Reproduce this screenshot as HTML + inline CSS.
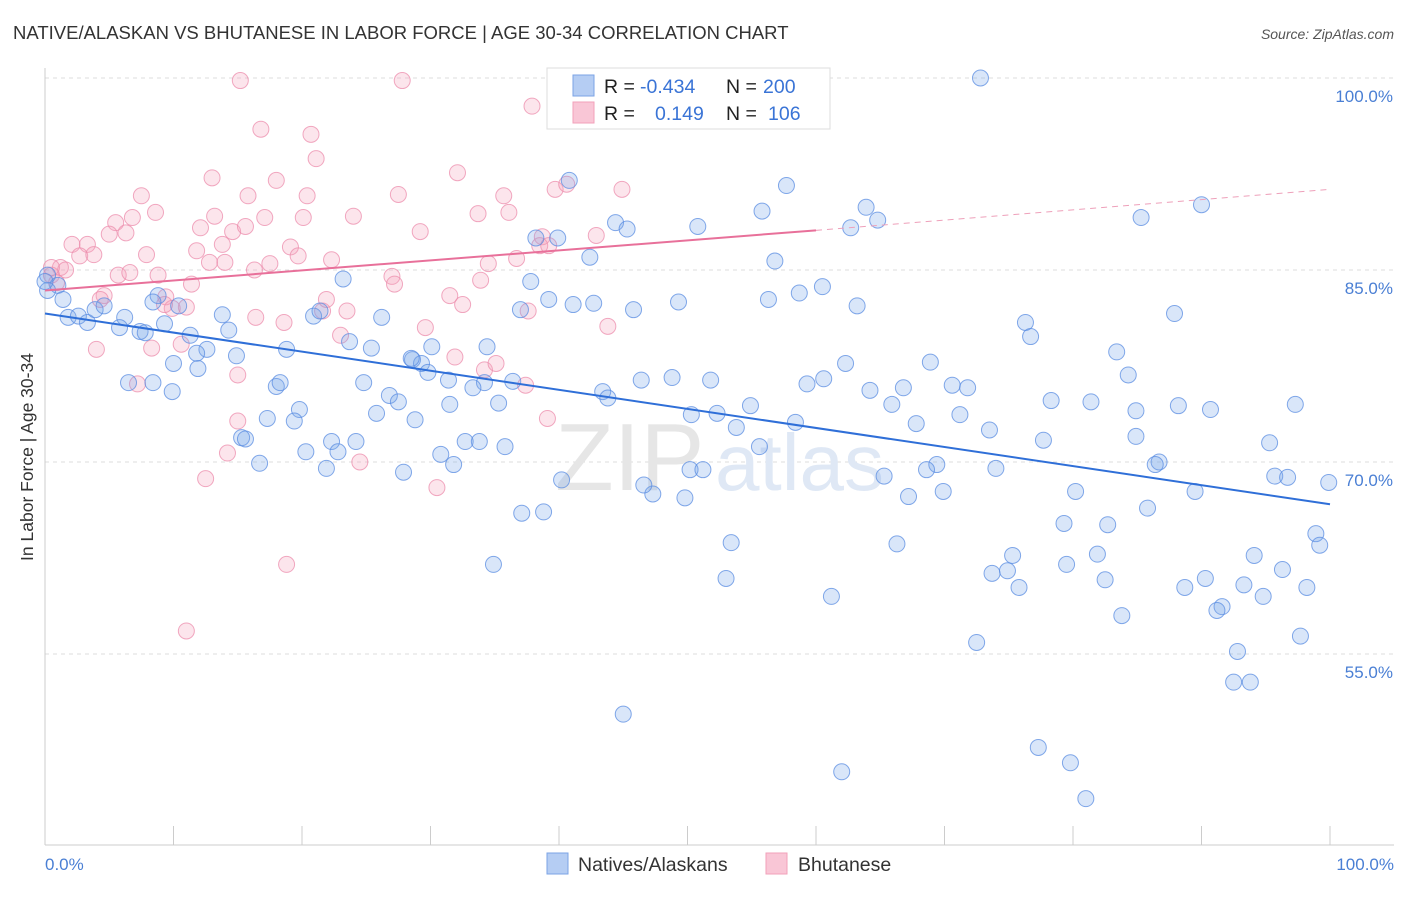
<!DOCTYPE html>
<html><head><meta charset="utf-8">
<style>
body{margin:0;background:#fff;font-family:"Liberation Sans",sans-serif;}
svg text{font-family:"Liberation Sans",sans-serif;}
</style></head>
<body>
<svg id="chart" width="1406" height="892" xmlns="http://www.w3.org/2000/svg">
<text x="13" y="39" font-size="18.5" fill="#333">NATIVE/ALASKAN VS BHUTANESE IN LABOR FORCE | AGE 30-34 CORRELATION CHART</text>
<text x="1394" y="39" font-size="14" fill="#555" font-style="italic" text-anchor="end">Source: ZipAtlas.com</text>
<text transform="translate(33,457) rotate(-90)" font-size="17.5" fill="#333" text-anchor="middle">In Labor Force | Age 30-34</text>
<g id="grid"></g>
<text x="555" y="490" font-size="96" fill="#e6e6e6" font-family="Liberation Serif">ZIP</text>
<text x="715" y="490" font-size="80" fill="#dfe8f5">atlas</text>
<g id="pts"></g>
<g id="trend"></g>
<g>
<rect x="547" y="68" width="283" height="61" fill="#fff" stroke="#ddd"/>
<rect x="573" y="75" width="21" height="21" fill="#b5cdf3" stroke="#7ba3e6"/>
<rect x="573" y="102" width="21" height="21" fill="#f9c6d6" stroke="#f2a0ba"/>
<text x="604" y="93" font-size="19.5" fill="#222">R = </text><text x="640" y="93" font-size="19.5" fill="#3a74d6">-0.434</text>
<text x="726" y="93" font-size="19.5" fill="#222">N =</text><text x="763" y="93" font-size="19.5" fill="#3a74d6">200</text>
<text x="604" y="120" font-size="19.5" fill="#222">R = </text><text x="655" y="120" font-size="19.5" fill="#3a74d6">0.149</text>
<text x="726" y="120" font-size="19.5" fill="#222">N =</text><text x="768" y="120" font-size="19.5" fill="#3a74d6">106</text>
</g>
<g>
<rect x="547" y="853" width="21" height="21" fill="#b5cdf3" stroke="#7ba3e6"/>
<text x="578" y="871" font-size="19.5" fill="#333">Natives/Alaskans</text>
<rect x="766" y="853" width="21" height="21" fill="#f9c6d6" stroke="#f2a0ba"/>
<text x="798" y="871" font-size="19.5" fill="#333">Bhutanese</text>
</g>
<text x="45" y="870" font-size="17" fill="#4a7fd4">0.0%</text>
<text x="1394" y="870" font-size="17" fill="#4a7fd4" text-anchor="end">100.0%</text>
</svg>
<script>
const yTicks=[100,85,70,55];
const xTickVals=[0,10,20,30,40,50,60,70,80,90,100];
const blueX=[72.8,40.8,57.7,63.9,64.8,85.3,90.0,55.8,44.4,45.3,50.8,62.7,38.2,39.9,42.4,56.8,23.2,37.8,0.2,1.0,1.4,8.8,13.8,1.8,2.6,3.3,3.9,4.6,6.2,5.8,7.4,7.8,9.3,10.4,11.3,12.6,14.3,14.9,18.8,20.9,21.4,26.2,23.7,25.4,28.6,29.3,30.1,29.8,31.4,34.4,34.2,37.0,39.2,41.1,42.7,45.8,49.3,56.3,58.7,60.5,63.2,76.3,76.7,87.9,83.4,84.3,68.9,62.3,60.6,59.3,64.2,65.9,66.8,70.6,71.8,71.2,67.8,73.5,78.3,81.4,84.9,88.2,90.7,97.3,77.7,84.9,95.3,86.7,86.4,74.0,69.4,68.6,65.3,95.7,96.7,99.9,89.5,80.2,67.2,69.9,79.3,82.7,85.8,49.8,47.3,46.6,98.9,99.2,66.3,53.4,75.3,81.9,79.5,74.9,73.7,75.8,82.5,88.7,90.3,94.1,93.3,96.3,98.2,94.8,91.6,91.2,83.8,61.2,53.0,34.9,37.1,38.8,40.2,72.5,92.8,92.5,93.8,97.7,45.0,77.3,79.8,62.0,81.0,8.4,8.4,10.0,11.9,11.8,15.3,15.6,17.3,16.7,18.0,18.3,19.8,19.4,22.3,20.3,21.9,22.8,24.2,24.8,25.8,26.8,27.5,28.8,27.9,28.5,30.8,31.8,32.7,33.8,33.3,31.5,35.3,35.8,36.4,43.4,43.8,46.4,48.8,51.8,50.3,52.3,53.8,54.9,55.6,58.4,50.2,51.2,9.9,6.5,0.2,0.0];
const blueY=[100.0,92.0,91.6,89.9,88.9,89.1,90.1,89.6,88.7,88.2,88.4,88.3,87.5,87.5,86.0,85.7,84.3,84.1,84.6,83.8,82.7,83.0,81.5,81.3,81.4,80.9,81.9,82.2,81.3,80.5,80.2,80.1,80.8,82.2,79.9,78.8,80.3,78.3,78.8,81.4,81.8,81.3,79.4,78.9,78.0,77.7,79.0,77.0,76.4,79.0,76.2,81.9,82.7,82.3,82.4,81.9,82.5,82.7,83.2,83.7,82.2,80.9,79.8,81.6,78.6,76.8,77.8,77.7,76.5,76.1,75.6,74.5,75.8,76.0,75.8,73.7,73.0,72.5,74.8,74.7,74.0,74.4,74.1,74.5,71.7,72.0,71.5,70.0,69.8,69.5,69.8,69.4,68.9,68.9,68.8,68.4,67.7,67.7,67.3,67.7,65.2,65.1,66.4,67.2,67.5,68.2,64.4,63.5,63.6,63.7,62.7,62.8,62.0,61.5,61.3,60.2,60.8,60.2,60.9,62.7,60.4,61.6,60.2,59.5,58.7,58.4,58.0,59.5,60.9,62.0,66.0,66.1,68.6,55.9,55.2,52.8,52.8,56.4,50.3,47.7,46.5,45.8,43.7,82.5,76.2,77.7,77.3,78.5,71.9,71.8,73.4,69.9,75.9,76.2,74.1,73.2,71.6,70.8,69.5,70.8,71.6,76.2,73.8,75.2,74.7,73.3,69.2,78.1,70.6,69.8,71.6,71.6,75.8,74.5,74.6,71.2,76.3,75.5,75.0,76.4,76.6,76.4,73.7,73.8,72.7,74.4,71.2,73.1,69.4,69.4,75.5,76.2,83.4,84.1];
const pinkX=[15.2,27.8,37.9,52.9,60.0,16.8,20.7,21.1,13.0,18.0,15.8,20.4,27.5,32.1,35.7,39.7,40.6,44.9,7.5,8.6,5.5,6.8,13.2,17.1,20.1,24.0,33.7,36.1,6.3,5.0,12.1,14.6,15.6,13.8,29.2,38.7,42.9,38.5,39.2,2.1,3.3,2.7,3.8,7.9,11.8,12.8,14.0,17.5,19.1,19.7,22.3,16.3,34.5,36.7,1.2,1.6,0.5,5.7,6.6,8.8,11.4,27.0,27.2,33.9,4.6,4.3,9.4,11.0,9.9,9.3,16.4,18.6,21.6,21.9,23.5,31.5,32.5,37.6,43.8,29.6,23.0,4.0,8.3,10.6,7.2,15.0,31.9,34.2,35.1,37.4,15.0,14.2,12.5,24.5,30.5,39.1,18.8,11.0,0.9,0.5];
const pinkY=[99.8,99.8,97.8,99.8,99.8,96.0,95.6,93.7,92.2,92.0,90.8,90.8,90.9,92.6,90.8,91.3,91.7,91.3,90.8,89.5,88.7,89.1,89.2,89.1,89.1,89.2,89.4,89.5,87.9,87.8,88.3,88.0,88.4,87.0,88.0,87.6,87.7,86.9,86.9,87.0,87.0,86.1,86.2,86.2,86.5,85.6,85.6,85.5,86.8,86.1,85.8,85.0,85.5,85.9,85.2,85.0,84.6,84.6,84.8,84.6,83.9,84.5,83.9,84.2,83.0,82.7,82.9,82.1,82.0,82.3,81.3,80.9,81.8,82.7,81.8,83.0,82.3,81.8,80.6,80.5,79.9,78.8,78.9,79.2,76.1,76.8,78.2,77.2,77.7,76.0,73.2,70.7,68.7,70.0,68.0,73.4,62.0,56.8,84.0,85.2];
const blueTrend=[[0,81.6],[100,66.7]];
const pinkTrend=[[0,83.4],[60,88.1],[100,91.3]];
const NS='http://www.w3.org/2000/svg';
const X0=45,X1=1330;
function sx(v){return X0+(v/100)*(X1-X0);}
function sy(v){return 270-(v-85)*12.8;}
function mk(tag,attrs,parent){const e=document.createElementNS(NS,tag);for(const k in attrs)e.setAttribute(k,attrs[k]);parent.appendChild(e);return e;}
const svg=document.getElementById('chart');
const grid=document.getElementById('grid');
yTicks.forEach(t=>{
  const l=mk('line',{x1:45,x2:1394,y1:sy(t),y2:sy(t),stroke:'#ddd','stroke-dasharray':'4,4'},grid);
  
  
  const tx=mk('text',{x:1393,y:sy(t)+24,'font-size':17,fill:'#4a7fd4','text-anchor':'end'},grid);
  tx.textContent=t.toFixed(1)+'%';
  
  
});
const ax=mk('line',{x1:45,x2:45,y1:68,y2:845,stroke:'#ccc'},grid);


const bx=mk('line',{x1:45,x2:1394,y1:845,y2:845,stroke:'#ccc'},grid);


xTickVals.forEach(t=>{
  const l=mk('line',{x1:sx(t),x2:sx(t),y1:826,y2:845,stroke:'#ccc'},grid);
  
  
});
const pts=document.getElementById('pts');
pinkX.forEach((x,i)=>{
  const c=mk('circle',{cx:sx(x),cy:sy(pinkY[i]),r:8,fill:'rgba(244,160,188,0.28)',stroke:'rgba(236,140,172,0.75)','stroke-width':1},pts);
  
  
});
blueX.forEach((x,i)=>{
  const c=mk('circle',{cx:sx(x),cy:sy(blueY[i]),r:8,fill:'rgba(120,165,235,0.28)',stroke:'rgba(90,140,225,0.75)','stroke-width':1},pts);
  
  
});
const tr=document.getElementById('trend');
const bl=mk('line',{x1:sx(blueTrend[0][0]),y1:sy(blueTrend[0][1]),x2:sx(blueTrend[1][0]),y2:sy(blueTrend[1][1]),stroke:'#2f6fd8','stroke-width':2},tr);


const pl=mk('line',{x1:sx(pinkTrend[0][0]),y1:sy(pinkTrend[0][1]),x2:sx(pinkTrend[1][0]),y2:sy(pinkTrend[1][1]),stroke:'#e8709a','stroke-width':2},tr);


const pd=mk('line',{x1:sx(pinkTrend[1][0]),y1:sy(pinkTrend[1][1]),x2:sx(pinkTrend[2][0]),y2:sy(pinkTrend[2][1]),stroke:'#eea0ba','stroke-width':1,'stroke-dasharray':'6,5'},tr);


</script>
</body></html>
